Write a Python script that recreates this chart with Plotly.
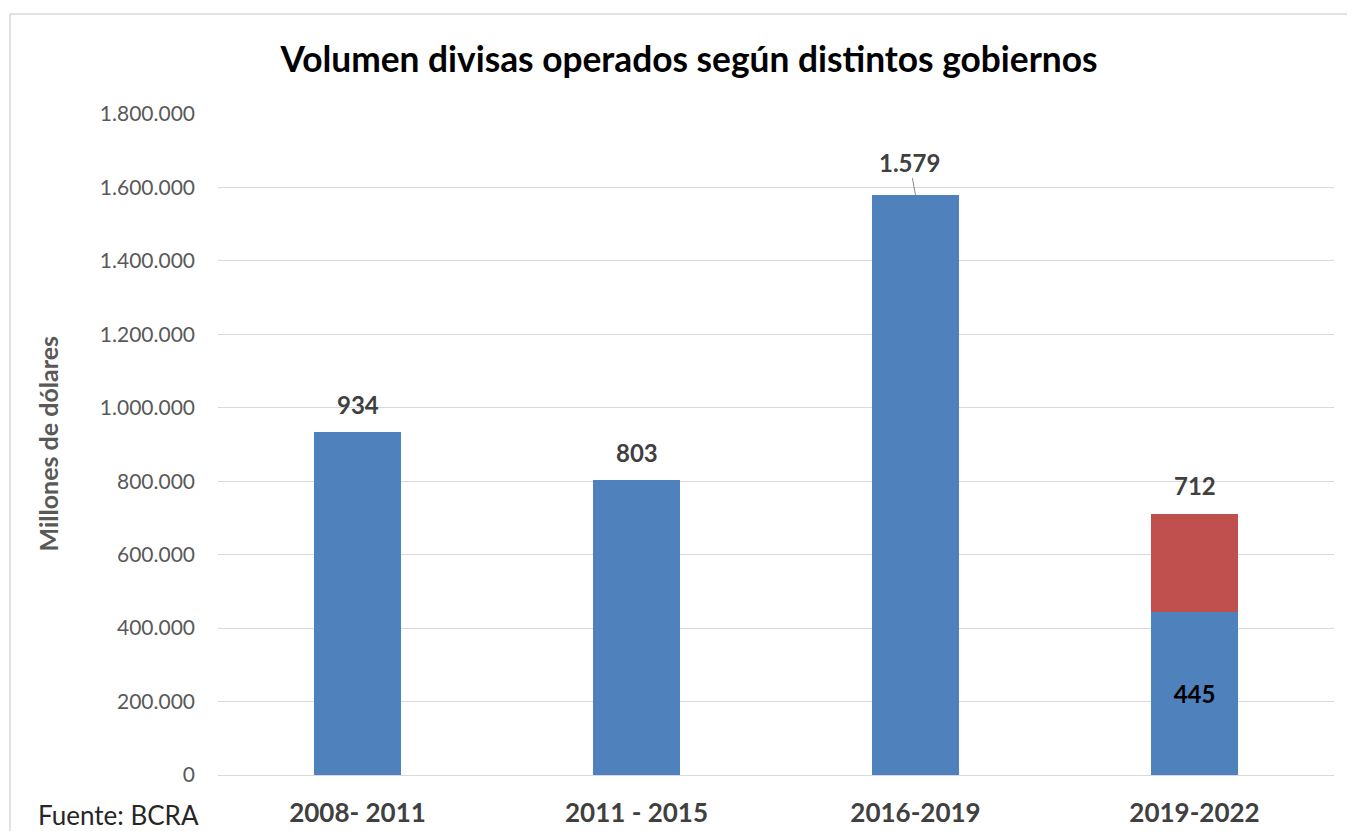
import plotly.graph_objects as go

periodos = ["2008- 2011", "2011 - 2015", "2016-2019", "2019-2022"]
volumen_base = [934000, 803000, 1579000, 445000]
volumen_extra = [0, 0, 0, 267000]
etiquetas_total = ["934", "803", "1.579", "712"]
totales = [934000, 803000, 1579000, 712000]
etiqueta_interna = ["", "", "", "445"]
y_ticks = [0, 200000, 400000, 600000, 800000, 1000000, 1200000, 1400000, 1600000, 1800000]

AZUL = "#4F81BD"
ROJO = "#C0504D"
FONT = "Lato"

# la página tiene 8px de margen propio, se descuentan aquí
W, H = 1347, 823
L, R, T, B = 210, 21, 106, 56

fig = go.Figure()

fig.add_trace(go.Bar(
    x=periodos,
    y=volumen_base,
    marker=dict(color=AZUL, line=dict(width=0)),
    width=0.31,
    text=etiqueta_interna,
    textposition="inside",
    insidetextanchor="middle",
    textfont=dict(family=FONT, size=24, color="#000000", weight="bold"),
    hoverinfo="skip",
))

fig.add_trace(go.Bar(
    x=periodos,
    y=volumen_extra,
    marker=dict(color=ROJO, line=dict(width=0)),
    width=0.31,
    hoverinfo="skip",
))

# etiquetas de total sobre cada columna
for p, t, lab in zip(periodos, totales, etiquetas_total):
    if lab == "1.579":
        fig.add_annotation(
            x=p, y=t, text=lab, showarrow=True,
            ax=-6, ay=-33, arrowhead=0, arrowwidth=1, arrowcolor="#8c8c8c",
            standoff=0, startstandoff=0,
            font=dict(family=FONT, size=24, color="#404040", weight="bold"),
        )
    else:
        fig.add_annotation(
            x=p, y=t, text=lab, showarrow=False, yshift=28,
            font=dict(family=FONT, size=24, color="#404040", weight="bold"),
        )

pw = W - L - R
ph = H - T - B

fig.add_annotation(
    xref="paper", yref="paper", x=(39 - L) / pw, y=0.5,
    xanchor="center", yanchor="middle",
    text="Millones de dólares", textangle=-90, showarrow=False,
    font=dict(family=FONT, size=25, color="#595959", weight="bold"),
)

fig.add_annotation(
    xref="paper", yref="paper", x=(28 - L) / pw, y=-(807 - 767) / ph,
    xanchor="left", yanchor="middle",
    text="Fuente: BCRA", showarrow=False,
    font=dict(family=FONT, size=26, color="#262626"),
)

# marco del gráfico
fig.add_shape(
    type="rect", xref="paper", yref="paper",
    x0=(2 - L) / pw, x1=1.1, y0=-0.2, y1=(H - B - 6) / ph,
    line=dict(color="#D9D9D9", width=1.5), layer="below",
)

fig.update_layout(
    width=W,
    height=H,
    barmode="stack",
    showlegend=False,
    separators=",.",
    plot_bgcolor="white",
    paper_bgcolor="white",
    margin=dict(l=L, r=R, t=T, b=B),
    title=dict(
        text="<b>Volumen divisas operados según distintos gobiernos</b>",
        x=681 / W, xanchor="center",
        y=1 - 52 / H, yanchor="middle", yref="container",
        font=dict(family=FONT, size=35.3, color="#000000"),
    ),
    xaxis=dict(
        showgrid=False,
        showline=False,
        ticks="",
        automargin=False,
        tickfont=dict(family=FONT, size=26, color="#404040", weight="bold"),
        ticklabelstandoff=20,
    ),
    yaxis=dict(
        range=[0, 1800000],
        tickvals=y_ticks,
        tickformat=",d",
        automargin=False,
        showgrid=True,
        gridcolor="#D9D9D9",
        gridwidth=1,
        zeroline=True,
        zerolinecolor="#D9D9D9",
        zerolinewidth=1,
        showline=False,
        ticks="",
        tickfont=dict(family=FONT, size=21, color="#595959"),
        ticklabelstandoff=22,
    ),
)

fig.write_html("out.html")
